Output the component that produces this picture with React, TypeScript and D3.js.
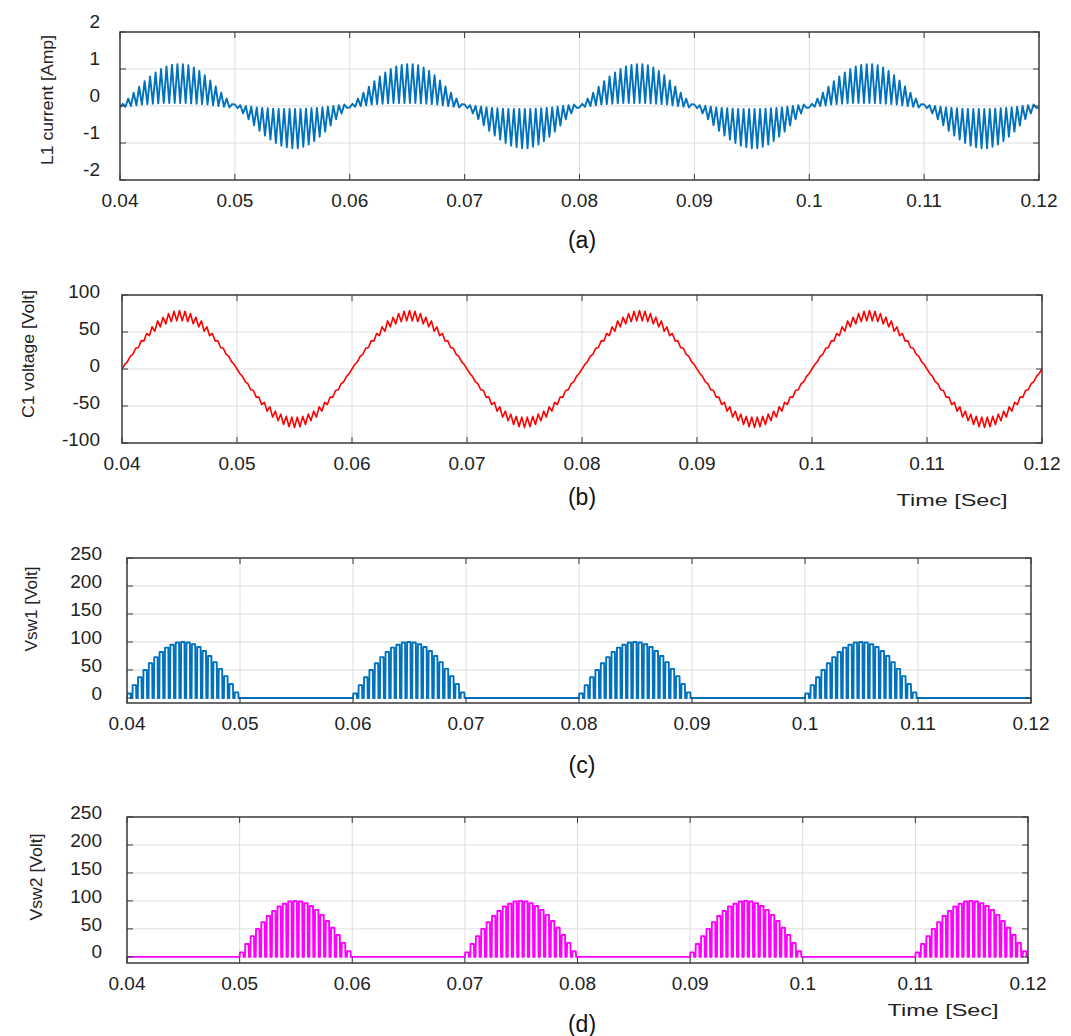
import React, { useRef, useEffect } from "react";
import * as d3 from "d3";

// time axis [sec]
const timeTicks = [0.04, 0.05, 0.06, 0.07, 0.08, 0.09, 0.1, 0.11, 0.12];
const timeTickLabels = ["0.04", "0.05", "0.06", "0.07", "0.08", "0.09", "0.1", "0.11", "0.12"];

// start of each 10 ms half cycle
const halfCycleStarts = [0.04, 0.05, 0.06, 0.07, 0.08, 0.09, 0.1, 0.11];
const halfCycleLength = 0.01;

// (a) L1 current - value at start of each switching period / at the spike
const currentPosBase = [-0.04, -0.02, 0.0, 0.02, 0.04, 0.05, 0.06, 0.07, 0.08, 0.08, 0.08, 0.08, 0.08, 0.07, 0.06, 0.05, 0.04, 0.02, 0.0, -0.02, -0.04];
const currentPosSpike = [0.06, 0.2, 0.36, 0.52, 0.67, 0.8, 0.91, 1.0, 1.07, 1.11, 1.13, 1.13, 1.1, 1.04, 0.95, 0.83, 0.69, 0.53, 0.36, 0.2, 0.05];
const currentNegBase = [0.04, 0.02, 0.0, -0.02, -0.04, -0.05, -0.06, -0.07, -0.08, -0.08, -0.08, -0.08, -0.08, -0.07, -0.06, -0.05, -0.04, -0.02, 0.0, 0.02, 0.04];
const currentNegSpike = [-0.06, -0.2, -0.36, -0.52, -0.67, -0.8, -0.91, -1.0, -1.07, -1.11, -1.14, -1.14, -1.1, -1.04, -0.95, -0.83, -0.69, -0.53, -0.36, -0.2, -0.05];

// (b) C1 voltage - ripple low / high per switching period
const voltagePosBase = [0, 10, 20, 29, 38, 45, 51, 57, 61, 64, 65, 65, 64, 61, 57, 51, 45, 38, 29, 20, 10];
const voltagePosSpike = [6, 17, 28, 38, 48, 57, 65, 70, 75, 78, 79, 78, 75, 70, 65, 57, 48, 38, 28, 17, 6];
const voltageNegBase = [0, -10, -20, -29, -38, -45, -51, -57, -61, -64, -65, -65, -64, -61, -57, -51, -45, -38, -29, -20, -10];
const voltageNegSpike = [-6, -17, -28, -38, -48, -57, -65, -70, -75, -78, -79, -78, -75, -70, -65, -57, -48, -38, -28, -17, -6];

// (c),(d) switch voltage - pulse height per switching period
const switchPulse = [8, 23, 37, 50, 62, 73, 82, 90, 95, 99, 100, 99, 96, 91, 84, 75, 64, 52, 39, 25, 10];
const vsw1Lobes = [0.04, 0.06, 0.08, 0.1];
const vsw2Lobes = [0.05, 0.07, 0.09, 0.11];

const font = "'Liberation Sans', Arial, sans-serif";

// alternating base / spike points for every half cycle
function rippleSeries(posBase, posSpike, negBase, negSpike) {
	const pts = [];
	halfCycleStarts.forEach((start, k) => {
		const base = k % 2 === 0 ? posBase : negBase;
		const spike = k % 2 === 0 ? posSpike : negSpike;
		const T = halfCycleLength / base.length;
		base.forEach((b, i) => {
			pts.push([start + i * T, b]);
			pts.push([start + (i + 0.5) * T, spike[i]]);
		});
	});
	pts.push([0.12, posBase[0]]);
	return pts;
}

// square pulses during active half cycles, flat zero otherwise
function pulseSeries(lobes) {
	const pts = [];
	halfCycleStarts.forEach((start) => {
		if (lobes.includes(start)) {
			const T = halfCycleLength / switchPulse.length;
			switchPulse.forEach((v, i) => {
				const t = start + i * T;
				pts.push([t, 0]);
				pts.push([t + 0.06 * T, v]);
				pts.push([t + 0.68 * T, v]);
				pts.push([t + 0.74 * T, 0]);
			});
		} else {
			pts.push([start, 0]);
			pts.push([start + halfCycleLength, 0]);
		}
	});
	pts.push([0.12, 0]);
	return pts;
}

const panels = [
	{
		left: 120, right: 1039, top: 32, bottom: 180,
		yDomain: [-2, 2], yTicks: [-2, -1, 0, 1, 2], yLabelDy: -11, yLabelX: 100,
		xLabelY: 207, caption: "(a)", captionY: 248,
		yTitle: "L1  current  [Amp]", yTitleX: 47, yTitleY: 100, yTitleLen: 130,
		color: "#0072BD", width: 1.9,
		data: rippleSeries(currentPosBase, currentPosSpike, currentNegBase, currentNegSpike),
		timeLabel: null,
	},
	{
		left: 122, right: 1042, top: 295, bottom: 443,
		yDomain: [-100, 100], yTicks: [-100, -50, 0, 50, 100], yLabelDy: -4, yLabelX: 100,
		xLabelY: 470, caption: "(b)", captionY: 505,
		yTitle: "C1  voltage  [Volt]", yTitleX: 28, yTitleY: 354, yTitleLen: 128,
		color: "#ff0000", width: 1.6,
		data: rippleSeries(voltagePosBase, voltagePosSpike, voltageNegBase, voltageNegSpike),
		timeLabel: { x: 952, y: 506 },
	},
	{
		left: 127, right: 1031, top: 558, bottom: 703,
		yDomain: [-9, 250], yTicks: [0, 50, 100, 150, 200, 250], yLabelDy: -5, yLabelX: 102,
		xLabelY: 730, caption: "(c)", captionY: 773,
		yTitle: "Vsw1  [Volt]", yTitleX: 31, yTitleY: 609, yTitleLen: 85,
		color: "#0072BD", width: 1.9, data: pulseSeries(vsw1Lobes),
		timeLabel: null,
	},
	{
		left: 127, right: 1028, top: 817, bottom: 963,
		yDomain: [-11, 250], yTicks: [0, 50, 100, 150, 200, 250], yLabelDy: -5, yLabelX: 102,
		xLabelY: 990, caption: "(d)", captionY: 1032,
		yTitle: "Vsw2 [Volt]", yTitleX: 36, yTitleY: 877, yTitleLen: 87,
		color: "#ff00ff", width: 1.9, data: pulseSeries(vsw2Lobes),
		timeLabel: { x: 943, y: 1016 },
	},
];

const App = () => {
	const ref = useRef(null);

	useEffect(() => {
		const svg = d3.select(ref.current);
		svg.selectAll("*").remove();

		panels.forEach((p, idx) => {
			const x = d3.scaleLinear().domain([0.04, 0.12]).range([p.left, p.right]);
			const y = d3.scaleLinear().domain(p.yDomain).range([p.bottom, p.top]);
			const g = svg.append("g");

			g.append("rect")
				.attr("x", p.left).attr("y", p.top)
				.attr("width", p.right - p.left).attr("height", p.bottom - p.top)
				.attr("fill", "#fff");

			// grid
			g.selectAll(".vgrid")
				.data(timeTicks.slice(1, -1))
				.enter().append("line")
				.attr("x1", (d) => x(d)).attr("x2", (d) => x(d))
				.attr("y1", p.top).attr("y2", p.bottom)
				.attr("stroke", "#dedede").attr("stroke-width", 1);
			g.selectAll(".hgrid")
				.data(p.yTicks.filter((d) => y(d) > p.top + 1 && y(d) < p.bottom - 1))
				.enter().append("line")
				.attr("x1", p.left).attr("x2", p.right)
				.attr("y1", (d) => y(d)).attr("y2", (d) => y(d))
				.attr("stroke", "#dedede").attr("stroke-width", 1);

			// clip waveform
			const clipId = "clip" + idx;
			svg.append("clipPath").attr("id", clipId)
				.append("rect")
				.attr("x", p.left).attr("y", p.top - 2)
				.attr("width", p.right - p.left).attr("height", p.bottom - p.top + 4);

			const line = d3.line().x((d) => x(d[0])).y((d) => y(d[1]));
			g.append("path")
				.datum(p.data)
				.attr("clip-path", `url(#${clipId})`)
				.attr("d", line)
				.attr("fill", "none")
				.attr("stroke", p.color)
				.attr("stroke-width", p.width)
				.attr("stroke-linejoin", "round");

			// box
			g.append("rect")
				.attr("x", p.left).attr("y", p.top)
				.attr("width", p.right - p.left).attr("height", p.bottom - p.top)
				.attr("fill", "none").attr("stroke", "#3a3a3a").attr("stroke-width", 1.5);

			// inward ticks
			const tl = 6;
			timeTicks.forEach((t) => {
				g.append("line").attr("x1", x(t)).attr("x2", x(t)).attr("y1", p.top).attr("y2", p.top + tl).attr("stroke", "#3a3a3a");
				g.append("line").attr("x1", x(t)).attr("x2", x(t)).attr("y1", p.bottom).attr("y2", p.bottom - tl).attr("stroke", "#3a3a3a");
			});
			p.yTicks.forEach((v) => {
				g.append("line").attr("x1", p.left).attr("x2", p.left + tl).attr("y1", y(v)).attr("y2", y(v)).attr("stroke", "#3a3a3a");
				g.append("line").attr("x1", p.right).attr("x2", p.right - tl).attr("y1", y(v)).attr("y2", y(v)).attr("stroke", "#3a3a3a");
			});

			// tick labels
			g.selectAll(".xl")
				.data(timeTicks)
				.enter().append("text")
				.attr("x", (d) => x(d)).attr("y", p.xLabelY)
				.attr("text-anchor", "middle")
				.attr("font-family", font).attr("font-size", 19).attr("fill", "#222")
				.text((d, i) => timeTickLabels[i]);
			g.selectAll(".yl")
				.data(p.yTicks)
				.enter().append("text")
				.attr("x", p.yLabelX).attr("y", (d) => y(d) + p.yLabelDy)
				.attr("dy", "0.35em")
				.attr("text-anchor", "end")
				.attr("font-family", font).attr("font-size", 19).attr("fill", "#222")
				.text((d) => d);

			// axis title
			g.append("text")
				.attr("transform", `translate(${p.yTitleX},${p.yTitleY}) rotate(-90)`)
				.attr("text-anchor", "middle").attr("dy", "0.35em")
				.attr("font-family", font).attr("font-size", 16).attr("fill", "#222")
				.attr("textLength", p.yTitleLen).attr("lengthAdjust", "spacingAndGlyphs")
				.text(p.yTitle);

			if (p.timeLabel) {
				g.append("text")
					.attr("x", p.timeLabel.x).attr("y", p.timeLabel.y)
					.attr("text-anchor", "middle")
					.attr("font-family", font).attr("font-size", 16).attr("fill", "#222")
					.attr("textLength", 111).attr("lengthAdjust", "spacingAndGlyphs")
					.text("Time  [Sec]");
			}

			g.append("text")
				.attr("x", 582).attr("y", p.captionY)
				.attr("text-anchor", "middle")
				.attr("font-family", font).attr("font-size", 23).attr("fill", "#111")
				.text(p.caption);
		});
	}, []);

	return (
		<svg
			ref={ref}
			width={1071}
			height={1036}
			style={{ position: "absolute", left: 0, top: 0, background: "#fff" }}
		/>
	);
};

export default App;
